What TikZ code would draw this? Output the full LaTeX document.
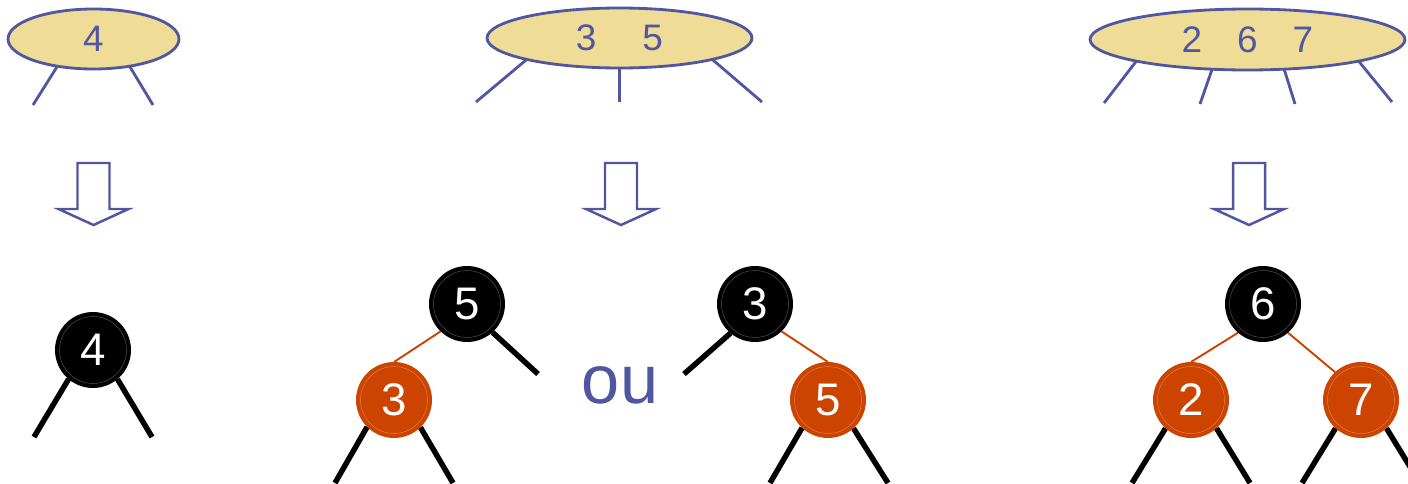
\documentclass[tikz,border=0pt]{standalone}
\usepackage{fontspec}
\setmainfont{Liberation Sans}
\usetikzlibrary{shapes.geometric}
\pgfdeclarelayer{background}
\pgfsetlayers{background,main}
\definecolor{tblue}{RGB}{80,86,160}
\definecolor{tfill}{RGB}{239,220,150}
\definecolor{tred}{RGB}{204,68,0}
\begin{document}
\begin{tikzpicture}[x=0.02cm,y=-0.02cm,
  key/.style={ellipse, draw=tblue, fill=tfill, line width=1.6pt, inner sep=0, outer sep=0, text=tblue, font=\fontsize{21}{21}\selectfont},
  bnode/.style={circle, fill=black, minimum size=1.52cm, inner sep=0, outer sep=0, text=white, font=\fontsize{26}{26}\selectfont,
    path picture={\draw[black!70!white, line width=0.3pt] (path picture bounding box.center) circle (0.67cm);}},
  rnode/.style={bnode, fill=tred,
    path picture={\draw[tred!70!white, line width=0.3pt] (path picture bounding box.center) circle (0.67cm);}},
  link/.style={tblue, line width=1.6pt},
  bedge/.style={black, line width=3.1pt},
  redge/.style={tred, line width=1.1pt},
  harrow/.style={draw=tblue, fill=white, line width=1.4pt, line join=miter},
  pics/downarrow/.style={code={\draw[harrow] (-16,0) -- (16,0) -- (16,46) -- (35,46) -- (0,62) -- (-35,46) -- (-16,46) -- cycle;}}]
\useasboundingbox (0,0) rectangle (1408,483);

% 2-3-4 nodes
\node[key, minimum width=3.42cm, minimum height=1.2cm] (e1) at (93.5,39) {4};
\node[key, minimum width=5.3cm, minimum height=1.2cm] (e2) at (619.5,38) {3\hspace{0.92cm}5};
\node[key, minimum width=6.3cm, minimum height=1.22cm] (e3) at (1247.5,39.5) {2\hspace{0.7cm}6\hspace{0.7cm}7};

\coordinate (e1a) at (33,105);
\coordinate (e1b) at (153,105);
\coordinate (e2a) at (476,102);
\coordinate (e2b) at (619.5,102);
\coordinate (e2c) at (762,102);
\coordinate (e3a) at (1104,103);
\coordinate (e3b) at (1200,104);
\coordinate (e3c) at (1295,104);
\coordinate (e3d) at (1392,102);

\draw[link] (e1.217) -- (e1a);
\draw[link] (e1.323) -- (e1b);
\draw[link] (e2.193) -- (e2a);
\draw[link] (e2.270) -- (e2b);
\draw[link] (e2.347) -- (e2c);
\draw[link] (e3.191) -- (e3a);
\draw[link] (e3.220) -- (e3b);
\draw[link] (e3.321) -- (e3c);
\draw[link] (e3.349) -- (e3d);

% arrows
\pic at (93.5,163) {downarrow};
\pic at (621,163) {downarrow};
\pic at (1249,163) {downarrow};

% red-black trees
\node[bnode] (c4) at (93,350) {4};
\node[bnode] (c5a) at (467,304) {5};
\node[rnode] (c3a) at (394,400) {3};
\node[bnode] (c3b) at (755,304) {3};
\node[rnode] (c5b) at (828,400) {5};
\node[bnode] (c6) at (1263,304) {6};
\node[rnode] (c2) at (1191,400) {2};
\node[rnode] (c7) at (1361,400) {7};
\node[text=tblue, font=\fontsize{39}{39}\selectfont, inner sep=0] (ou) at (620,385) {ou};

\coordinate (t4a) at (34,437);
\coordinate (t4b) at (152,437);
\coordinate (t5a) at (538,374);
\coordinate (t3a) at (335,483);
\coordinate (t3b) at (453,483);
\coordinate (t3c) at (684,374);
\coordinate (t5b) at (770,483);
\coordinate (t5c) at (888,483);
\coordinate (t2a) at (1132,483);
\coordinate (t2b) at (1250,483);
\coordinate (t7a) at (1302,483);
\coordinate (t7b) at (1420,483);

\begin{pgfonlayer}{background}
\draw[bedge] (c4.230) -- (t4a);
\draw[bedge] (c4.310) -- (t4b);
\draw[bedge] (c5a.312) -- (t5a);
\draw[bedge] (c3a.225) -- (t3a);
\draw[bedge] (c3a.314) -- (t3b);
\draw[bedge] (c3b.230) -- (t3c);
\draw[bedge] (c5b.227) -- (t5b);
\draw[bedge] (c5b.312) -- (t5c);
\draw[bedge] (c2.228) -- (t2a);
\draw[bedge] (c2.312) -- (t2b);
\draw[bedge] (c7.228) -- (t7a);
\draw[bedge] (c7.312) -- (t7b);
\draw[redge] (c5a.226) -- (c3a.90);
\draw[redge] (c3b.314) -- (c5b.90);
\draw[redge] (c6.229) -- (c2.90);
\draw[redge] (c6.311) -- (c7.133);
\end{pgfonlayer}
\end{tikzpicture}
\end{document}
